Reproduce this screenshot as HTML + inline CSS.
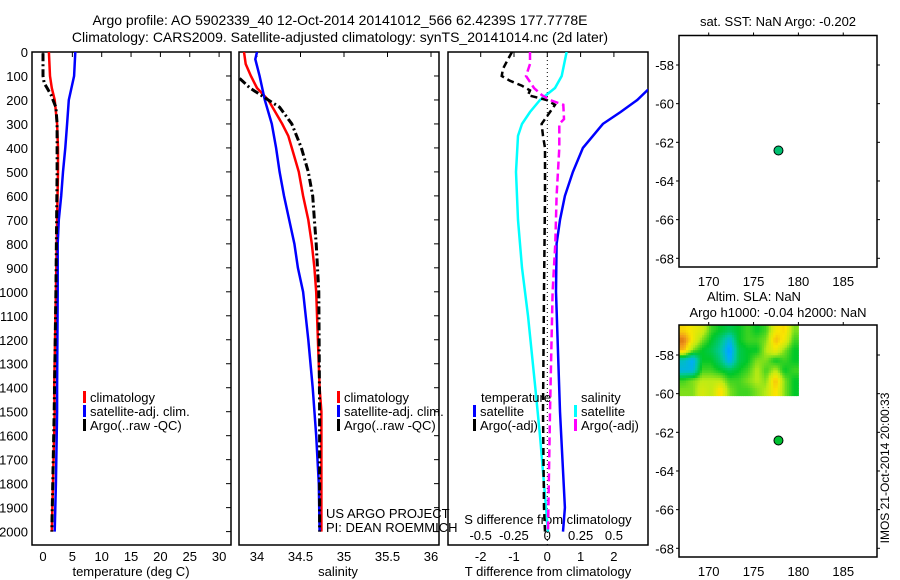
<!DOCTYPE html>
<html><head><meta charset="utf-8"><style>
html,body{margin:0;padding:0;background:#fff;}
svg{display:block;font-family:"Liberation Sans",sans-serif;}
text{fill:#000;}
</style></head><body>
<svg id="fig" width="900" height="580" viewBox="0 0 900 580" xmlns="http://www.w3.org/2000/svg">
<defs>
<clipPath id="c1"><rect x="32" y="52" width="199" height="493"/></clipPath>
<clipPath id="c2"><rect x="239" y="52" width="200" height="493"/></clipPath>
<clipPath id="c3"><rect x="448" y="52" width="200" height="493"/></clipPath>
</defs>
<text x="340" y="25" font-size="14" text-anchor="middle">Argo profile: AO 5902339_40 12-Oct-2014 20141012_566 62.4239S 177.7778E</text>
<text x="340" y="42" font-size="14" text-anchor="middle">Climatology: CARS2009. Satellite-adjusted climatology: synTS_20141014.nc (2d later)</text>
<g id="g"></g>
</svg>
<script>
// ---- Data ----
const tDepthClim=[0,100,150,200,300,400,500,700,1000,1400,1500,2000];
const tClim=[1.0,1.2,1.5,2.0,2.4,2.55,2.55,2.4,2.2,1.9,2.0,1.5];
const tDepthSat=[0,100,200,300,400,500,600,700,800,1000,1400,1500,1800,2000];
const tSat=[5.5,5.3,4.4,4.1,3.8,3.4,3.1,2.7,2.5,2.5,2.4,2.4,2.2,2.0];
const tDepthArgo=[5,100,130,150,180,200,230,300,500,1000,1500,2000];
const tArgo=[0.0,0.0,0.2,0.7,1.4,1.7,2.2,2.4,2.4,2.2,1.9,1.5];

const sDepthClim=[0,50,100,150,200,250,300,350,400,500,600,700,800,900,1000,1400,1500,2000];
const sClim=[33.85,33.87,33.93,34.0,34.13,34.21,34.29,34.36,34.40,34.48,34.53,34.59,34.63,34.66,34.68,34.72,34.74,34.74];
const sDepthSat=[0,30,100,200,300,400,500,600,700,800,900,1000,1200,1400,1600,1800,2000];
const sSat=[34.0,33.98,34.03,34.09,34.17,34.22,34.26,34.31,34.37,34.43,34.47,34.53,34.59,34.64,34.68,34.71,34.72];
const sDepthArgo=[110,150,200,230,300,400,500,600,700,800,1000,1500,2000];
const sArgo=[33.80,33.92,34.13,34.26,34.40,34.51,34.59,34.64,34.66,34.68,34.71,34.72,34.72];

const dDepthTSat=[140,160,200,250,300,350,400,500,600,700,800,1000,1500,1900,2000];
const dTSat=[3.3,3.0,2.7,2.2,1.67,1.37,1.07,0.77,0.53,0.38,0.28,0.26,0.38,0.53,0.47];
const dDepthTArgo=[0,30,70,100,120,140,160,180,200,220,250,300,350,400,600,1000,1500,1900,2000];
const dTArgo=[-1.06,-1.18,-1.33,-1.37,-1.12,-0.77,-0.52,-0.58,-0.02,0.23,0.08,-0.17,-0.13,-0.07,-0.07,-0.1,-0.13,-0.1,-0.07];
const dDepthSSat=[0,100,150,200,250,300,350,500,700,900,1100,1400,1600,1800,2000];
const dSSat=[0.145,0.108,0.058,-0.055,-0.13,-0.19,-0.22,-0.235,-0.22,-0.19,-0.145,-0.09,-0.055,-0.025,0.005];
const dDepthSArgo=[0,50,100,150,180,200,220,280,300,400,600,800,1000,1500,2000];
const dSArgo=[-0.13,-0.13,-0.16,-0.1,-0.04,0.02,0.12,0.125,0.09,0.09,0.07,0.06,0.04,0.02,0.005];

const depthTicks=[0,100,200,300,400,500,600,700,800,900,1000,1100,1200,1300,1400,1500,1600,1700,1800,1900,2000];
const tTicks=[0,5,10,15,20,25,30];
const sTicks=[34,34.5,35,35.5,36];
const sTickLabels=["34","34.5","35","35.5","36"];
const dTTicks=[-2,-1,0,1,2];
const dSTicks=[-0.5,-0.25,0,0.25,0.5];
const dSTickLabels=["-0.5","-0.25","0","0.25","0.5"];

const mapLonTicks=[170,175,180,185];
const mapLatTicks=[-58,-60,-62,-64,-66,-68];
const argoLon=177.7778, argoLat=-62.4239;

const slaLon0=166.7, slaLon1=180, slaLatTop=-56.45, slaLatBot=-60.1;
const slaGrid=[
[0.6,0.5,0.4,0.1,0,-0.1,0,0.1,0,0.1,0.5,0.6,0.2],
[0.9,0.5,0.2,0,-0.2,-0.5,0,0.1,0.1,0.2,0.7,0.5,0.1],
[0.7,0.2,0,-0.1,-0.3,-0.7,-0.1,0,0,0.3,0.5,0.2,0],
[-0.4,-0.6,0,0,-0.2,-0.6,-0.1,0,0.2,0.2,0,0.1,0],
[-0.5,-0.5,0.1,0.1,0,-0.1,0,0.1,0.3,0.1,0.3,0,0.1],
[0.1,0.2,0.3,0.3,0.3,0.1,0.1,0.2,0.3,0.2,0.7,0.2,0],
[0.2,0.2,0.4,0.3,0.6,0.2,0.1,0.1,0.2,0.3,0.6,0.2,0]
];

// ---- Axes ----
const yD=d=>52+d*0.2398;
const xT=v=>43+v*5.87;
const xS=v=>257+(v-34)*87;
const xDT=v=>547.3+v*33.3;
const xDS=v=>547.3+v*133.3;
const mX=lon=>708.7+(lon-170)*8.97;
const mY1=lat=>65+(-58-lat)*19.33;
const mY2=lat=>355+(-58-lat)*19.33;

const NS="http://www.w3.org/2000/svg";
const G=document.getElementById('g');
function mk(tag,attrs,parent){const e=document.createElementNS(NS,tag);for(const k in attrs)e.setAttribute(k,attrs[k]);(parent||G).appendChild(e);return e;}
function txt(x,y,s,size,anchor,parent){const e=mk('text',{x:x,y:y,'font-size':size,'text-anchor':anchor||'start'},parent);e.textContent=s;return e;}

function box(x,y,w,h,name){const r=mk('rect',{x:x,y:y,width:w,height:h,fill:'none',stroke:'#000','stroke-width':1.5});

}

function series(depths,vals,xf,color,w,dash,clip,name){
  const pts=depths.map((d,i)=>xf(vals[i]).toFixed(1)+','+yD(d).toFixed(1)).join(' ');
  const p=mk('polyline',{points:pts,fill:'none',stroke:color,'stroke-width':w,'clip-path':'url(#'+clip+')'});
  if(dash)p.setAttribute('stroke-dasharray',dash);
  
  
}

box(32,52,199,493,'temperature-panel-frame');
box(239,52,200,493,'salinity-panel-frame');
box(448,52,200,493,'difference-panel-frame');

depthTicks.forEach(d=>{
  const t=txt(28,yD(d)+5,String(d),13,'end');
  
  
  [231,439].forEach(xr=>mk('line',{x1:xr-5,x2:xr,y1:yD(d),y2:yD(d),stroke:'#000','stroke-width':1}));
});
tTicks.forEach(v=>{
  const t=txt(xT(v),561,String(v),13,'middle');
  
  
  mk('line',{x1:xT(v),x2:xT(v),y1:52,y2:57,stroke:'#000'});
});
sTicks.forEach((v,i)=>{
  const t=txt(xS(v),561,sTickLabels[i],13,'middle');
  
  
  mk('line',{x1:xS(v),x2:xS(v),y1:52,y2:57,stroke:'#000'});
});
dTTicks.forEach(v=>{
  const t=txt(xDT(v),561,String(v),13,'middle');
  
  
  mk('line',{x1:xDT(v),x2:xDT(v),y1:52,y2:57,stroke:'#000'});
});
dSTicks.forEach((v,i)=>{
  const t=txt(xDS(v),540,dSTickLabels[i],13,'middle');
  
  
});
let a;
a=txt(131,576,'temperature (deg C)',13,'middle');
a=txt(338,576,'salinity',13,'middle');
a=txt(548,576,'T difference from climatology',13,'middle');
a=txt(548,524,'S difference from climatology',13,'middle');

const zl=mk('line',{x1:xDT(0),x2:xDT(0),y1:52,y2:545,stroke:'#000','stroke-width':1,'stroke-dasharray':'1,3'});



series(tDepthClim,tClim,xT,'#ff0000',2.5,null,'c1','temperature-climatology-line');
series(tDepthSat,tSat,xT,'#0000ff',2.5,null,'c1','temperature-satellite-line');
series(tDepthArgo,tArgo,xT,'#000',3,'8,3,2,3','c1','temperature-argo-line');
series(sDepthClim,sClim,xS,'#ff0000',2.5,null,'c2','salinity-climatology-line');
series(sDepthSat,sSat,xS,'#0000ff',2.5,null,'c2','salinity-satellite-line');
series(sDepthArgo,sArgo,xS,'#000',3,'8,3,2,3','c2','salinity-argo-line');
series(dDepthTSat,dTSat,xDT,'#0000ff',2.5,null,'c3','t-diff-satellite-line');
series(dDepthSSat,dSSat,xDS,'#00ffff',2.5,null,'c3','s-diff-satellite-line');
series(dDepthTArgo,dTArgo,xDT,'#000',2.5,'7,4','c3','t-diff-argo-line');
series(dDepthSArgo,dSArgo,xDS,'#ff00ff',2.5,'8,4','c3','s-diff-argo-line');

function legItem(x,y,color,label,name){
  const g=mk('g',{});
  
  
  mk('rect',{x:x,y:y-11,width:3,height:12,fill:color},g);
  txt(x+7,y,label,13,'start',g);
}
legItem(83,402,'#ff0000','climatology','legend-entry-climatology-t');
legItem(83,416,'#0000ff','satellite-adj. clim.','legend-entry-satellite-t');
legItem(83,430,'#000','Argo(..raw -QC)','legend-entry-argo-t');
legItem(337,402,'#ff0000','climatology','legend-entry-climatology-s');
legItem(337,416,'#0000ff','satellite-adj. clim.','legend-entry-satellite-s');
legItem(337,430,'#000','Argo(..raw -QC)','legend-entry-argo-s');
a=txt(481,402,'temperature',13);
a=txt(581,402,'salinity',13);
legItem(473,416,'#0000ff','satellite','legend-entry-t-satellite');
legItem(473,430,'#000','Argo(-adj)','legend-entry-t-argo');
legItem(574,416,'#00ffff','satellite','legend-entry-s-satellite');
legItem(574,430,'#ff00ff','Argo(-adj)','legend-entry-s-argo');
a=txt(326,518,'US ARGO PROJECT',13);
a=txt(326,532,'PI: DEAN ROEMMICH',13);

function slaColor(v){
  const stops=[[-1,[0,80,255]],[-0.6,[0,170,255]],[-0.3,[0,200,160]],[0,[0,200,40]],[0.3,[190,235,20]],[0.55,[250,230,0]],[0.8,[240,150,30]],[1,[200,90,0]]];
  for(let i=1;i<stops.length;i++){if(v<=stops[i][0]){const[a0,c0]=stops[i-1],[a1,c1]=stops[i];const f=Math.max(0,(v-a0)/(a1-a0));return 'rgb('+c0.map((c,k)=>Math.round(c+(c1[k]-c)*f)).join(',')+')';}}
  return 'rgb(200,90,0)';
}
function sampleSLA(r,c){
  const nr=slaGrid.length,nc=slaGrid[0].length;
  r=Math.max(0,Math.min(nr-1,r));c=Math.max(0,Math.min(nc-1,c));
  const r0=Math.floor(r),c0=Math.floor(c),r1=Math.min(nr-1,r0+1),c1=Math.min(nc-1,c0+1);
  const fr=r-r0,fc=c-c0;
  return slaGrid[r0][c0]*(1-fr)*(1-fc)+slaGrid[r0][c1]*(1-fr)*fc+slaGrid[r1][c0]*fr*(1-fc)+slaGrid[r1][c1]*fr*fc;
}
function drawMap(top,bottom,yf,name,dotColor,withSLA){
  if(withSLA){
    const g=mk('g',{});
    
    
    const nr=slaGrid.length,nc=slaGrid[0].length,S=4;
    const dLon=(slaLon1-slaLon0)/(nc*S),dLat=(slaLatTop-slaLatBot)/(nr*S);
    for(let r=0;r<nr*S;r++)for(let c=0;c<nc*S;c++){
      const v=sampleSLA((r+0.5)/S-0.5,(c+0.5)/S-0.5);
      const x0=mX(slaLon0+c*dLon),x1=mX(slaLon0+(c+1)*dLon);
      const y0=yf(slaLatTop-r*dLat),y1=yf(slaLatTop-(r+1)*dLat);
      const cell=mk('rect',{x:x0.toFixed(1),y:y0.toFixed(1),width:(x1-x0+0.5).toFixed(1),height:(y1-y0+0.5).toFixed(1),fill:slaColor(v)},g);
      
      
    }
  }
  box(679,top,198,bottom-top,name+'-frame');
  mapLonTicks.forEach(l=>{
    mk('line',{x1:mX(l),x2:mX(l),y1:top-3,y2:top,stroke:'#000'});
    const t=txt(mX(l),bottom+19,String(l),13,'middle');
    
    
  });
  mapLatTicks.forEach(l=>{
    mk('line',{x1:676,x2:679,y1:yf(l),y2:yf(l),stroke:'#000'});
    mk('line',{x1:877,x2:880,y1:yf(l),y2:yf(l),stroke:'#000'});
    const t=txt(674,yf(l)+5,String(l),13,'end');
    
    
  });
  const c=mk('circle',{cx:mX(argoLon),cy:yf(argoLat),r:4.5,fill:dotColor,stroke:'#000','stroke-width':1});
  
  
}
drawMap(35.5,267,mY1,'sst-map','#00c070',false);
drawMap(325,557,mY2,'sla-map','#00c030',true);
a=txt(778,26,'sat. SST: NaN Argo: -0.202',13,'middle');
a=txt(754,301,'Altim. SLA: NaN',13,'middle');
a=txt(778,317,'Argo h1000: -0.04 h2000: NaN',13,'middle');
a=txt(0,0,'IMOS 21-Oct-2014 20:00:33',12,'middle');
a.setAttribute('transform','translate(889,468) rotate(-90)');


</script>
</body></html>
